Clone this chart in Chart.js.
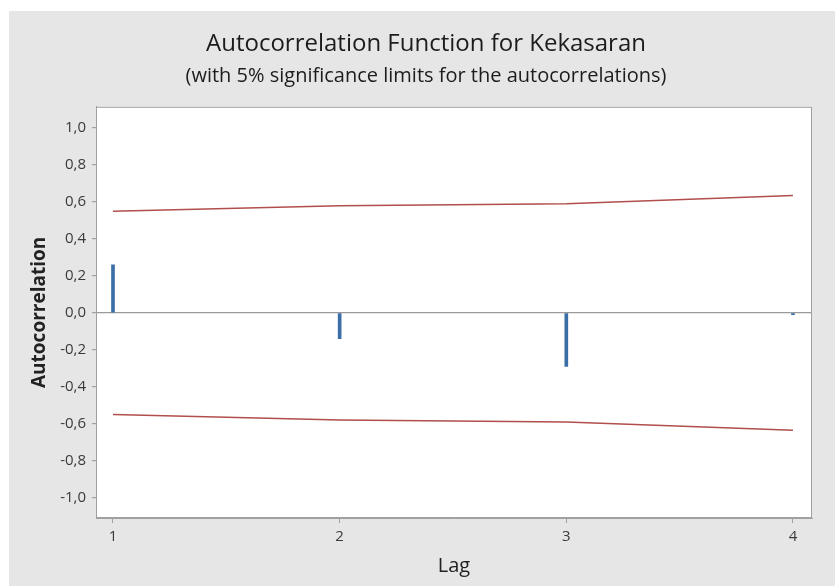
<!DOCTYPE html>
<html>
<head>
<meta charset="utf-8">
<script src="https://cdn.jsdelivr.net/npm/chart.js@4.4.1/dist/chart.umd.min.js"></script>
<style>
  html, body { margin: 0; padding: 0; background: #ffffff; }
  #wrap { position: absolute; left: 0; top: 0; width: 835px; height: 586px; }
</style>
</head>
<body>
<div id="wrap"><canvas id="c" width="835" height="586"></canvas></div>
<script>
// ---- data ----
const lags = [1, 2, 3, 4];
const acfValues = [0.26, -0.14, -0.29, -0.01];
const upperLimit = [0.55, 0.58, 0.59, 0.635];
const lowerLimit = [-0.55, -0.58, -0.59, -0.635];
const xTicks = [1, 2, 3, 4];
const yTicks = [-1.0, -0.8, -0.6, -0.4, -0.2, 0.0, 0.2, 0.4, 0.6, 0.8, 1.0];

const FONT = "'Open Sans', 'Noto Sans', sans-serif";

const bgPlugin = {
  id: 'bg',
  beforeDraw(chart) {
    const ctx = chart.ctx;
    const a = chart.chartArea;
    ctx.save();
    ctx.fillStyle = '#e6e6e6';
    ctx.fillRect(9, 11, chart.width - 9, chart.height - 11);
    ctx.fillStyle = '#ffffff';
    ctx.fillRect(a.left, a.top, a.right - a.left, a.bottom - a.top);
    ctx.restore();
  },
  afterDraw(chart) {
    const ctx = chart.ctx;
    const a = chart.chartArea;
    ctx.save();
    ctx.strokeStyle = '#a0a0a0';
    ctx.lineWidth = 1;
    ctx.strokeRect(a.left + 0.5, a.top + 0.5, a.right - a.left - 1, a.bottom - a.top - 1);
    ctx.restore();
  }
};

const fmt = v => {
  if (Math.abs(v) < 1e-9) v = 0;
  return v.toFixed(1).replace('.', ',');
};

new Chart(document.getElementById('c'), {
  data: {
    datasets: [
      {
        type: 'bar',
        data: lags.map((l, i) => ({ x: l, y: acfValues[i] })),
        backgroundColor: '#3b6ea6',
        borderWidth: 0,
        barThickness: 3,
        order: 1
      },
      {
        type: 'line',
        data: lags.map((l, i) => ({ x: l, y: upperLimit[i] })),
        borderColor: '#b24e4b',
        borderWidth: 1.5,
        pointRadius: 0,
        tension: 0,
        order: 2
      },
      {
        type: 'line',
        data: lags.map((l, i) => ({ x: l, y: lowerLimit[i] })),
        borderColor: '#b24e4b',
        borderWidth: 1.5,
        pointRadius: 0,
        tension: 0,
        order: 2
      }
    ]
  },
  options: {
    responsive: false,
    animation: false,
    devicePixelRatio: 1,
    layout: { padding: { left: 17, right: 0, top: 20, bottom: 0 } },
    plugins: {
      legend: { display: false },
      tooltip: { enabled: false },
      title: {
        display: true,
        text: 'Autocorrelation Function for Kekasaran',
        color: '#1c1c1c',
        font: { family: FONT, size: 24, weight: 'normal' },
        padding: { top: 10, bottom: 2 }
      },
      subtitle: {
        display: true,
        text: '(with 5% significance limits for the autocorrelations)',
        color: '#1c1c1c',
        font: { family: FONT, size: 20, weight: 'normal' },
        padding: { top: 3, bottom: 19 }
      }
    },
    scales: {
      x: {
        type: 'linear',
        offset: false,
        min: 0.925,
        max: 4.084,
        afterFit: s => { s.height = 68; },
        afterBuildTicks: s => { s.ticks = xTicks.map(v => ({ value: v })); },
        ticks: {
          color: '#3a3a3a',
          font: { family: FONT, size: 15 },
          padding: 5,
          callback: v => String(v)
        },
        grid: {
          offset: false,
          drawOnChartArea: false,
          drawTicks: true,
          tickLength: 5,
          tickColor: '#a0a0a0'
        },
        border: { display: true, color: '#a0a0a0' },
        title: {
          display: true,
          text: 'Lag',
          color: '#222222',
          font: { family: FONT, size: 20, weight: 'normal' },
          padding: { top: 0, bottom: 8 }
        }
      },
      y: {
        type: 'linear',
        min: -1.11,
        max: 1.115,
        afterFit: s => { s.width = 79; },
        afterBuildTicks: s => { s.ticks = yTicks.map(v => ({ value: v })); },
        ticks: {
          color: '#3a3a3a',
          font: { family: FONT, size: 15 },
          padding: 6,
          callback: v => fmt(v)
        },
        grid: {
          drawOnChartArea: true,
          drawTicks: true,
          tickLength: 4,
          tickColor: '#a0a0a0',
          color: ctx => (ctx.tick && Math.abs(ctx.tick.value) < 1e-9) ? '#9a9a9a' : 'rgba(0,0,0,0)',
          lineWidth: 1.2
        },
        border: { display: true, color: '#a0a0a0' },
        title: {
          display: true,
          text: 'Autocorrelation',
          color: '#222222',
          font: { family: FONT, size: 19, weight: 'bold' },
          padding: { top: 11, bottom: 0 }
        }
      },
      yRight: {
        type: 'linear',
        position: 'right',
        min: -1.11,
        max: 1.115,
        afterFit: s => { s.width = 23; },
        ticks: { display: false },
        grid: { drawOnChartArea: false, drawTicks: false },
        border: { display: false },
        title: { display: false }
      }
    }
  },
  plugins: [bgPlugin]
});
</script>
</body>
</html>
